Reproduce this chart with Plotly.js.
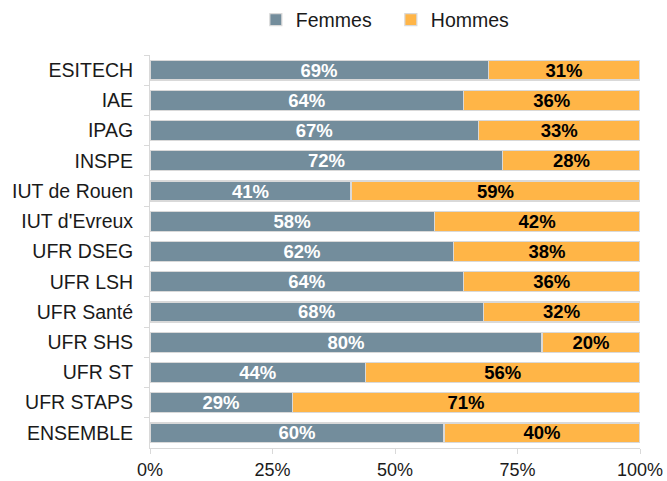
<!DOCTYPE html>
<html>
<head>
<meta charset="utf-8">
<script src="https://cdn.plot.ly/plotly-3.0.1.min.js"></script>
<style>html,body{margin:0;padding:0;background:#fff;}#chart{width:667px;height:481px;}</style>
</head>
<body>
<div id="chart"></div>
<script>
const categories = ["ESITECH","IAE","IPAG","INSPE","IUT de Rouen","IUT d'Evreux","UFR DSEG","UFR LSH","UFR Santé","UFR SHS","UFR ST","UFR STAPS","ENSEMBLE"];
const femmes = [69,64,67,72,41,58,62,64,68,80,44,29,60];
const hommes = [31,36,33,28,59,42,38,36,32,20,56,71,40];
const xTicks = [0,25,50,75,100];

const font = "'Liberation Sans', Arial, sans-serif";
const traces = [
  {type:"bar", orientation:"h", name:"Femmes", y:categories, x:femmes,
   marker:{color:"#738D9C", line:{color:"#D9D9D9", width:1.2}},
   texttemplate:"<b>%{x}%</b>", textposition:"inside", insidetextanchor:"middle",
   constraintext:"none", textfont:{family:font, size:18.5, color:"#FFFFFF"}, hoverinfo:"none"},
  {type:"bar", orientation:"h", name:"Hommes", y:categories, x:hommes,
   marker:{color:"#FFB547", line:{color:"#D9D9D9", width:1.2}},
   texttemplate:"<b>%{x}%</b>", textposition:"inside", insidetextanchor:"middle",
   constraintext:"none", textfont:{family:font, size:18.5, color:"#000000"}, hoverinfo:"none"}
];
const layout = {
  width:667, height:481,
  margin:{l:150, r:27, t:55, b:33, autoexpand:false},
  barmode:"stack", bargap:0.34,
  paper_bgcolor:"#fff", plot_bgcolor:"#fff",
  font:{family:font, size:18, color:"#1a1a1a"},
  showlegend:true,
  legend:{orientation:"h", x:0.216, xanchor:"left", y:1.089, yanchor:"middle", yref:"paper",
          font:{family:font, size:19.5, color:"#1a1a1a"}, traceorder:"normal", itemwidth:30,
          entrywidth:90, entrywidthmode:"pixels"},
  xaxis:{range:[0,100], tickvals:xTicks, ticktext:xTicks.map(v=>v+"%"),
         showgrid:false, zeroline:false, showline:true, linecolor:"#D9D9D9", linewidth:1,
         ticks:"outside", ticklen:5, tickcolor:"#D9D9D9", tickfont:{family:font,size:18,color:"#1a1a1a"}},
  yaxis:{type:"category", autorange:"reversed", showgrid:false, zeroline:false,
         showline:true, linecolor:"#D9D9D9", linewidth:1, ticks:"outside", ticklen:5,
         tickcolor:"#D9D9D9", tickson:"boundaries", tickfont:{family:font,size:19.5,color:"#1a1a1a"},
         ticklabelstandoff:12}
};
Plotly.newPlot("chart", traces, layout, {displayModeBar:false, staticPlot:true});
</script>
</body>
</html>
